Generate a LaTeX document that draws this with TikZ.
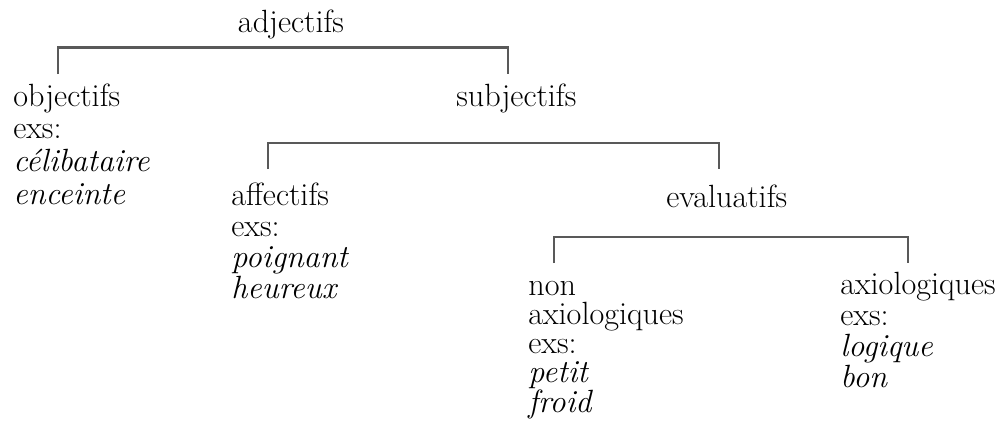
\documentclass[tikz,border=0pt]{standalone}
\usepackage{tikz}
\newcommand{\termfont}[1]{\fontsize{18.3}{#1}\selectfont\lineskiplimit=-6pt\relax}
\tikzset{
  term/.style={font=\termfont{17.6pt}, inner sep=0pt, align=left, anchor=base west},
  branch/.style={draw=black!65, line width=1.3pt}
}

\begin{document}
\begin{tikzpicture}[x=0.02cm, y=-0.02cm]
        \useasboundingbox (0,0) rectangle (1001,423);

        % Top level (multi-line nodes sit on their last line)
        \node[term, anchor=base] (adjectifs) at (291,32) {adjectifs};
        \node[term, font=\termfont{18.5pt}] (objectifs) at (13,204) {objectifs\\exs:\\\textit{célibataire}\\\textit{enceinte}};
        \node[term] (subjectifs) at (456,106) {subjectifs};
        \coordinate (objectifs-top) at (58,74);
        \coordinate (subjectifs-top) at (508,74);
        \draw[branch] (objectifs-top) -- ++(0,-26.5) -| (subjectifs-top);

        % Subjectifs
        \node[term] (affectifs) at (231,298) {affectifs\\exs:\\\textit{poignant}\\\textit{heureux}};
        \node[term] (evaluatifs) at (666,207) {evaluatifs};
        \coordinate (affectifs-top) at (268,169);
        \coordinate (evaluatifs-top) at (719,169);
        \draw[branch] (affectifs-top) -- ++(0,-26) -| (evaluatifs-top);

        % Evaluatifs
        \node[term, font=\termfont{16.6pt}] (nonaxio) at (528,412) {non\\axiologiques\\exs:\\\textit{petit}\\\textit{froid}};
        \node[term] (axio) at (840,387) {axiologiques\\exs:\\\textit{logique}\\\textit{bon}};
        \coordinate (nonaxio-top) at (554,263);
        \coordinate (axio-top) at (908,263);
        \draw[branch] (nonaxio-top) -- ++(0,-26) -| (axio-top);

    \end{tikzpicture}
\end{document}
